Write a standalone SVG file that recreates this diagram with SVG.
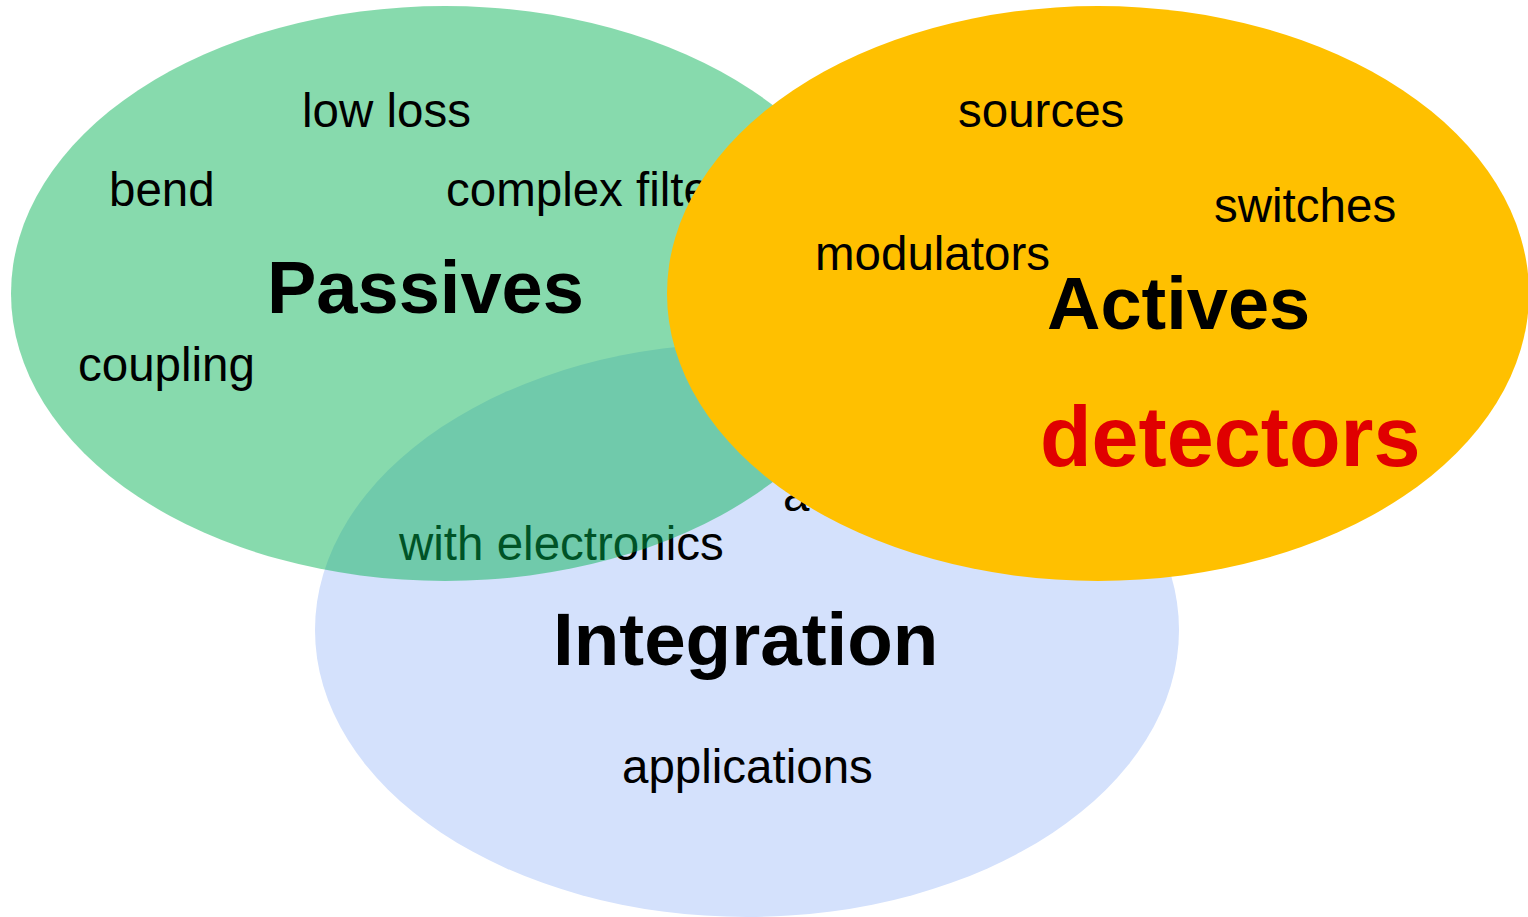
<svg xmlns="http://www.w3.org/2000/svg" width="1528" height="917" viewBox="0 0 1528 917">
<style>
text{font-family:"Liberation Sans",Arial,sans-serif;fill:#000}
.t{font-size:47.5px}
.h{font-size:74px;font-weight:bold}
</style>
<rect width="1528" height="917" fill="#fff"/>
<g id="integration">
<ellipse cx="747" cy="630" rx="432" ry="287" fill="#D4E1FC"/>
<text class="t" x="399" y="560">with electronics</text>
<text class="t" x="783" y="511">a</text>
<text class="h" x="553" y="665" style="font-size:74.6px">Integration</text>
<text class="t" x="622" y="783">applications</text>
</g>
<g id="passives">
<ellipse cx="445" cy="293.5" rx="434" ry="287.5" fill="#00B050" fill-opacity="0.47"/>
<text class="t" x="302" y="127">low loss</text>
<text class="t" x="109" y="206">bend</text>
<text class="t" x="446" y="206">complex filters</text>
<text class="h" x="267" y="313">Passives</text>
<text class="t" x="78" y="381">coupling</text>
</g>
<g id="actives">
<ellipse cx="1098" cy="293.5" rx="431" ry="287.5" fill="#FFC000"/>
<text class="t" x="958" y="127">sources</text>
<text class="t" x="1214" y="222">switches</text>
<text class="t" x="815" y="270">modulators</text>
<text class="h" x="1047" y="329">Actives</text>
<text x="1040" y="466" style="font-size:84.5px;font-weight:bold;fill:#E00000">detectors</text>
</g>
<g id="connectors"/>
</svg>
